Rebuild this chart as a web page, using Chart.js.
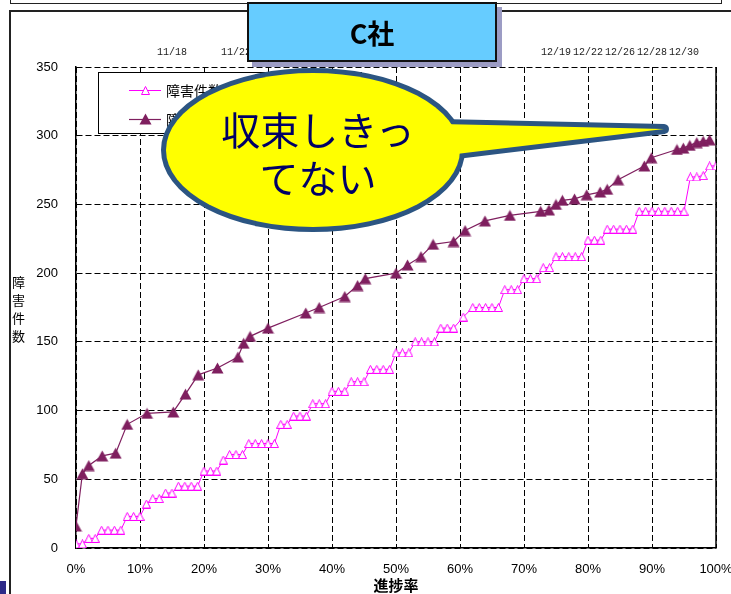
<!DOCTYPE html>
<html lang="ja">
<head>
<meta charset="utf-8">
<title>C社 障害件数</title>
<script src="https://cdn.jsdelivr.net/npm/chart.js@4.4.1/dist/chart.umd.min.js"></script>
<style>
  html, body { margin: 0; padding: 0; background: #fff; }
  #stage { position: relative; width: 731px; height: 594px; overflow: hidden; background: #fff; }
  #chart { position: absolute; left: 0; top: 0; }
  .upper-box { position: absolute; left: 10px; top: -20px; width: 710px; height: 22px; border: 1px solid #222; }
  .frame { position: absolute; left: 9px; top: 10px; width: 760px; height: 650px; border: 2px solid #222; }
  #legend { position: absolute; left: 98px; top: 72px; width: 262px; height: 60px; border: 1px solid #000; background: #fff;
            font: 14px 'Noto Sans CJK JP', sans-serif; color: #000; }
  .legend-item { position: absolute; left: 30px; height: 18px; display: flex; align-items: center; white-space: nowrap; }
  .legend-item span { margin-left: 5px; }
  #ytitle { position: absolute; left: 10px; top: 273px; width: 17px; text-align: center;
            font: 13px/18px 'Noto Sans CJK JP', sans-serif; color: #000; }
  #callout { position: absolute; left: 0; top: 0; }
  #callout-text { position: absolute; left: 160px; top: 104px; width: 316px; text-align: center;
                  font: 39px/48px 'Noto Sans CJK JP', sans-serif; color: #000066; }
  #company { position: absolute; left: 247px; top: 2px; width: 246px; height: 56px; background: #66CCFF;
             border: 2px solid #111; box-shadow: 5px 5px 0 #9C9CC4; display: flex; align-items: center;
             justify-content: center; font: bold 27px 'Noto Sans CJK JP', sans-serif; color: #000; }
  .corner-mark { position: absolute; left: 0; top: 581px; width: 6px; height: 13px; background: #2E2A88; }
</style>
</head>
<body>
<div id="stage">
  <div class="upper-box"></div>
  <div class="frame"></div>
  <canvas id="chart" width="731" height="594"></canvas>
  <div id="ytitle">障<br>害<br>件<br>数</div>
  <div id="legend"></div>
  <svg id="callout" width="731" height="594">
    <g fill="none" stroke="#2C5582" stroke-width="10" stroke-linejoin="round">
      <ellipse cx="313" cy="150" rx="147" ry="77"/>
      <polygon points="440,124 664,129 440,156"/>
    </g>
    <g fill="#FFFF00">
      <ellipse cx="313" cy="150" rx="147" ry="77"/>
      <polygon points="440,124 664,129 440,156"/>
    </g>
  </svg>
  <div id="callout-text">収束しきっ<br>てない</div>
  <div id="company">C社</div>
  <div class="corner-mark"></div>
</div>
<script>
// 障害件数 (1本目): 進捗率(%) ごとの累積件数
const series1Rate = [0, 1, 2, 3, 4, 5, 6, 7, 8, 9, 10, 11, 12, 13, 14, 15, 16, 17, 18, 19,
  20, 21, 22, 23, 24, 25, 26, 27, 28, 29, 30, 31, 32, 33, 34, 35, 36, 37, 38, 39,
  40, 41, 42, 43, 44, 45, 46, 47, 48, 49, 50, 51, 52, 53, 54, 55, 56, 57, 58, 59,
  60.5, 62, 63, 64, 65, 66, 67, 68, 69, 70, 71, 72, 73, 74, 75, 76, 77, 78, 79,
  80, 81, 82, 83, 84, 85, 86, 87, 88, 89, 90, 91, 92, 93, 94, 95, 96, 97, 98, 99, 100];
const series1Count = [3, 3, 7, 7, 13, 13, 13, 13, 23, 23, 23, 32, 36, 36, 40, 40, 45, 45, 45, 45,
  56, 56, 56, 64, 68, 68, 68, 76, 76, 76, 76, 76, 90, 90, 96, 96, 96, 105, 105, 105,
  114, 114, 114, 121, 121, 121, 130, 130, 130, 130, 142, 142, 142, 150, 150, 150, 150, 160, 160, 160,
  168, 175, 175, 175, 175, 175, 188, 188, 188, 196, 196, 196, 204, 204, 212, 212, 212, 212, 212,
  224, 224, 224, 232, 232, 232, 232, 232, 245, 245, 245, 245, 245, 245, 245, 245, 270, 270, 271, 278, 278];

// 障害件数 (2本目): 進捗率(%) ごとの累積件数
const series2Rate = [0, 1, 2, 4.1, 6.2, 8, 11.1, 15.2, 17.1, 19.1, 22.1, 25.3, 26.2, 27.2, 30,
  35.9, 38, 42, 44, 45.2, 50, 51.8, 53.9, 55.8, 59, 60.8, 63.9, 67.8, 72.6, 73.9,
  75, 76, 77.9, 79.8, 81.9, 83, 84.7, 88.8, 89.9, 93.9, 94.9, 95.9, 97, 98, 99];
const series2Count = [16, 54, 60, 67, 69, 90, 98, 99, 112, 126, 131, 139, 149, 154, 160,
  171, 175, 183, 191, 196, 200, 206, 212, 221, 223, 231, 238, 242, 245, 246,
  250, 253, 254, 257, 259, 261, 268, 278, 284, 290, 291, 293, 295, 296, 297];

const seriesLabels = ['障害件数', '障害件数(累積)'];
const seriesColors = ['#FF00FF', '#7F1F5F'];

// 軸目盛
const rateTicks = [0, 10, 20, 30, 40, 50, 60, 70, 80, 90, 100];
const countTicks = [0, 50, 100, 150, 200, 250, 300, 350];

// 上側の日付目盛 (進捗率上の位置と日付)
const datePositions = [15, 25, 75, 80, 85, 90, 95];
const dateLabels = ['11/18', '11/22', '12/19', '12/22', '12/26', '12/28', '12/30'];

// 三角マーカー (白抜き / 塗りつぶし)
function makeTriangle(w, h, fill, stroke) {
  const c = document.createElement('canvas');
  c.width = w; c.height = h;
  const g = c.getContext('2d');
  g.beginPath();
  g.moveTo(w / 2, 0.5);
  g.lineTo(w - 0.5, h - 0.5);
  g.lineTo(0.5, h - 0.5);
  g.closePath();
  g.fillStyle = fill;
  g.fill();
  if (stroke) { g.strokeStyle = stroke; g.lineWidth = 1; g.stroke(); }
  return c;
}
const markers = [
  makeTriangle(9, 9, '#FFFFFF', seriesColors[0]),
  makeTriangle(13, 12, seriesColors[1], null)
];

const toPoints = (xs, ys) => xs.map((x, i) => ({ x: x, y: ys[i] }));

const plotRightEdge = {
  id: 'plotRightEdge',
  beforeDatasetsDraw(chart) {
    const { ctx, chartArea } = chart;
    ctx.save();
    ctx.strokeStyle = '#000';
    ctx.lineWidth = 1.5;
    ctx.beginPath();
    ctx.moveTo(chartArea.right, chartArea.top);
    ctx.lineTo(chartArea.right, chartArea.bottom);
    ctx.stroke();
    ctx.restore();
  }
};

Chart.defaults.font.family = "'Liberation Sans', Arial, sans-serif";
Chart.defaults.color = '#000';

const chart = new Chart(document.getElementById('chart'), {
  type: 'line',
  data: {
    datasets: [
      { label: seriesLabels[0], data: toPoints(series1Rate, series1Count), borderColor: seriesColors[0],
        borderWidth: 1, pointStyle: markers[0], pointRadius: 5, pointHoverRadius: 5, tension: 0, fill: false },
      { label: seriesLabels[1], data: toPoints(series2Rate, series2Count), borderColor: seriesColors[1],
        borderWidth: 1.2, pointStyle: markers[1], pointRadius: 6, pointHoverRadius: 6, tension: 0, fill: false }
    ]
  },
  options: {
    responsive: false,
    animation: false,
    devicePixelRatio: 1,
    events: [],
    layout: { padding: { left: 30, right: 15, top: 0, bottom: 0 } },
    plugins: { legend: { display: false }, tooltip: { enabled: false } },
    scales: {
      x: {
        type: 'linear', position: 'bottom', min: 0, max: 100,
        afterBuildTicks: s => { s.ticks = rateTicks.map(v => ({ value: v })); },
        ticks: { callback: v => v + '%', padding: 14, font: { size: 13 }, color: '#000', maxRotation: 0, autoSkip: false },
        grid: { color: '#000', lineWidth: 1, drawTicks: false },
        border: { display: true, color: '#000', width: 1.5, dash: [6, 3] },
        title: { display: true, text: '進捗率', color: '#000', padding: { top: 0, bottom: 0 },
                 font: { size: 15, weight: 'bold', family: "'Noto Sans CJK JP', sans-serif" } },
        afterFit: s => { s.height = 46; s.paddingLeft = 0; s.paddingRight = 0; }
      },
      x2: {
        type: 'linear', position: 'top', min: 0, max: 100,
        afterBuildTicks: s => { s.ticks = datePositions.map(v => ({ value: v })); },
        ticks: { callback: v => dateLabels[datePositions.indexOf(v)], padding: 9, autoSkip: false, maxRotation: 0,
                 font: { size: 10, family: "'Liberation Mono', monospace" }, color: '#222' },
        grid: { display: false, drawTicks: false },
        border: { display: false },
        afterFit: s => { s.height = 67; s.paddingLeft = 0; s.paddingRight = 0; }
      },
      y: {
        type: 'linear', position: 'left', min: 0, max: 350,
        afterBuildTicks: s => { s.ticks = countTicks.map(v => ({ value: v })); },
        ticks: { padding: 18, font: { size: 13 }, color: '#000' },
        grid: { color: '#000', lineWidth: 1, drawTicks: false },
        border: { display: true, color: '#000', width: 1.5, dash: [6, 3] },
        afterFit: s => { s.width = 46; s.paddingTop = 0; s.paddingBottom = 0; }
      }
    }
  },
  plugins: [plotRightEdge]
});

// 凡例 (データ系列から生成)
const legend = document.getElementById('legend');
chart.data.datasets.forEach((ds, i) => {
  const item = document.createElement('div');
  item.className = 'legend-item';
  item.style.top = (8 + i * 29) + 'px';
  const sample = document.createElement('canvas');
  sample.width = 32; sample.height = 16;
  const g = sample.getContext('2d');
  g.strokeStyle = ds.borderColor;
  g.lineWidth = ds.borderWidth;
  g.beginPath(); g.moveTo(0, 8.5); g.lineTo(32, 8.5); g.stroke();
  const m = ds.pointStyle;
  g.drawImage(m, Math.round(16 - m.width / 2), Math.round(8 - m.height / 2));
  const label = document.createElement('span');
  label.textContent = ds.label;
  item.appendChild(sample);
  item.appendChild(label);
  legend.appendChild(item);
});
</script>
</body>
</html>
